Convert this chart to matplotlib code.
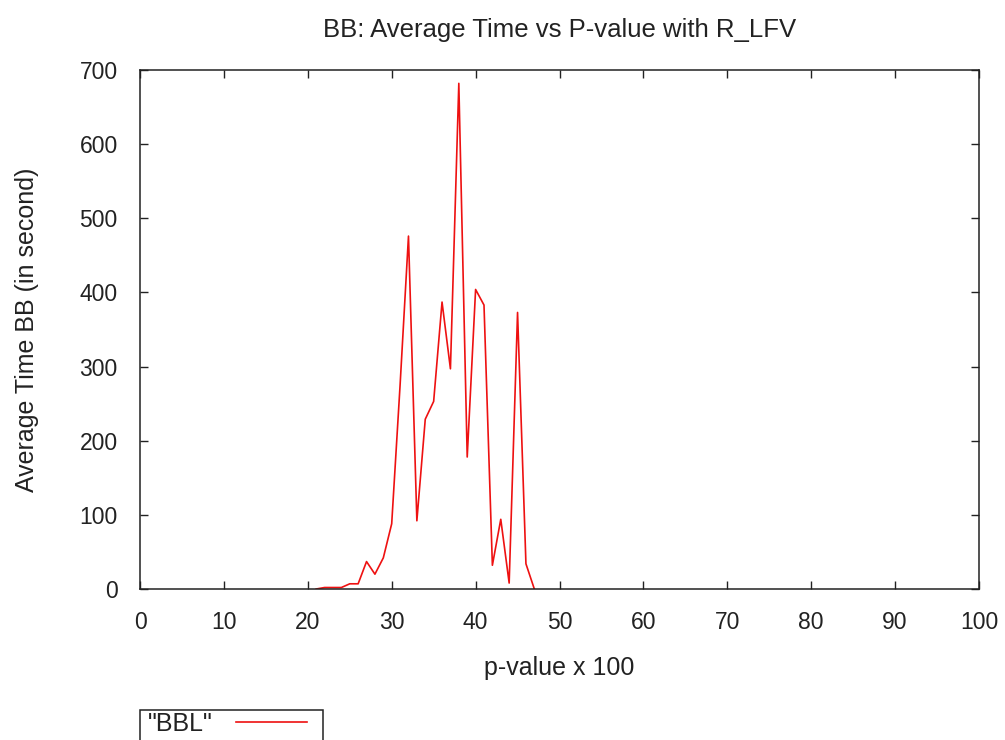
import matplotlib
matplotlib.use("Agg")
import matplotlib.pyplot as plt
from matplotlib.patches import Rectangle

p_values = list(range(21, 48))
avg_time = [0, 2, 2, 2, 7, 7, 37, 20, 42, 88,
            275, 476, 92, 229, 253, 387, 297, 682, 178, 404,
            383, 32, 94, 8, 373, 34, 0]
series_label = '"BBL"'
title = "BB: Average Time vs P-value with R_LFV"
xlabel = "p-value x 100"
ylabel = "Average Time BB (in second)"
xticks = list(range(0, 101, 10))
yticks = list(range(0, 701, 100))

plt.rcParams['font.family'] = ['Liberation Sans', 'DejaVu Sans']
txt = '#222222'
W, H = 1005, 740

fig = plt.figure(figsize=(W/100, H/100), dpi=100)
ax = fig.add_axes([140/W, 1-589/H, (979-140)/W, (589-70)/H])
line, = ax.plot(p_values, avg_time, color='#ee1111', lw=1.2, label=series_label)
ax.set_xlim(0, 100)
ax.set_ylim(0, 700)
ax.set_xticks(xticks)
ax.set_yticks(yticks)
ax.tick_params(direction='in', length=6, width=1, top=True, right=True,
               labelsize=16.5, colors='#222222', pad=16)
for s in ax.spines.values():
    s.set_linewidth(1.1)
    s.set_color('#222222')
ax.set_title(title, fontsize=18.5, color=txt, pad=24)
ax.set_xlabel(xlabel, fontsize=18, color=txt, labelpad=15.5)
ax.set_ylabel(ylabel, fontsize=18, color=txt, labelpad=29)

# legend box (gnuplot style, cut by the bottom edge)
fig.patches.append(Rectangle((140/W, 1-750/H), (323-140)/W, 40/H,
                             transform=fig.transFigure, fill=False,
                             edgecolor='#222222', linewidth=1.1))
leg = fig.legend(handles=[line], loc='upper left',
                 bbox_to_anchor=(148/W, 1-712/H),
                 bbox_transform=fig.transFigure, borderaxespad=0,
                 markerfirst=False, frameon=False, fontsize=18,
                 handlelength=2.84, borderpad=0, handletextpad=0.92)
for t in leg.get_texts():
    t.set_color(txt)

fig.savefig("out.png", dpi=100, facecolor='white')
